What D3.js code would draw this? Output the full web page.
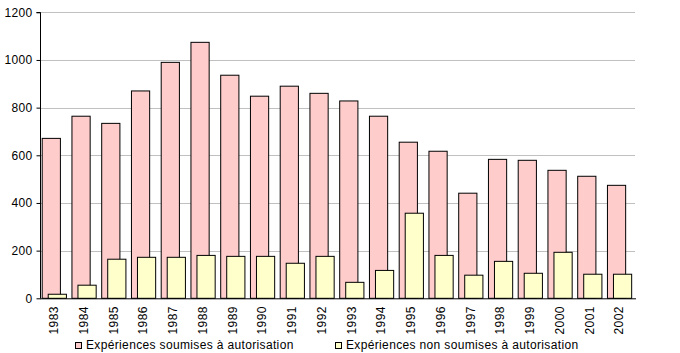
<!DOCTYPE html>
<html>
<head>
<meta charset="utf-8">
<script src="https://cdn.jsdelivr.net/npm/d3@7"></script>
<style>
  body { margin: 0; background: #fff; }
  svg text { font-family: "Liberation Sans", Arial, sans-serif; fill: #000; letter-spacing: 0.35px; }
</style>
</head>
<body>
<svg id="chart" width="680" height="353"></svg>
<script>
const years = ["1983","1984","1985","1986","1987","1988","1989","1990","1991","1992","1993","1994","1995","1996","1997","1998","1999","2000","2001","2002"];
const soumises = [671, 764, 734, 870, 990, 1074, 936, 848, 890, 860, 828, 764, 655, 617, 441, 583, 579, 537, 512, 474];
const nonSoumises = [17, 55, 164, 172, 172, 180, 176, 176, 147, 176, 67, 117, 357, 180, 97, 155, 105, 193, 101, 101];
const yTicks = [0, 200, 400, 600, 800, 1000, 1200];
const seriesNames = ["Expériences soumises à autorisation", "Expériences non soumises à autorisation"];
const colors = ["#FFCCCC", "#FFFFCC"];

const svg = d3.select("#chart");
const mLeft = 40, mRight = 635, mTop = 12.3, mBottom = 298.3;

const x = d3.scaleBand().domain(years).range([mLeft, mRight]).padding(0);
const y = d3.scaleLinear().domain([0, 1200]).range([mBottom, mTop]);
const bw = x.bandwidth();

// gridlines
svg.append("g").selectAll("line").data(yTicks.filter(d => d > 0)).join("line")
  .attr("x1", mLeft).attr("x2", mRight)
  .attr("y1", d => Math.round(y(d)) + 0.5).attr("y2", d => Math.round(y(d)) + 0.5)
  .attr("stroke", "#C0C0C0").attr("stroke-width", 1);

// bars
const barW = bw * 0.612;
svg.append("g").selectAll("rect").data(years).join("rect")
  .attr("x", d => x(d) + bw * 0.074)
  .attr("width", barW)
  .attr("y", (d, i) => y(soumises[i]))
  .attr("height", (d, i) => mBottom - y(soumises[i]))
  .attr("fill", colors[0]).attr("stroke", "#000").attr("stroke-width", 1);

svg.append("g").selectAll("rect").data(years).join("rect")
  .attr("x", d => x(d) + bw * 0.276)
  .attr("width", barW)
  .attr("y", (d, i) => y(nonSoumises[i]))
  .attr("height", (d, i) => mBottom - y(nonSoumises[i]))
  .attr("fill", colors[1]).attr("stroke", "#000").attr("stroke-width", 1);

// y axis
const yAxis = d3.axisLeft(y).tickValues(yTicks).tickSize(4).tickPadding(4).tickFormat(d3.format("d"));
const gy = svg.append("g").attr("transform", `translate(${mLeft + 0.5},0)`).call(yAxis);
gy.select(".domain").attr("d", `M-4,${Math.round(mTop)+0.5}H0V${mBottom}`).attr("stroke", "#000");
gy.selectAll(".tick line").attr("stroke", "#000");
gy.selectAll(".tick text").style("font-size", "12px").style("font-family", "Liberation Sans, Arial, sans-serif");

// x axis
const xAxis = d3.axisBottom(x).tickSize(0).tickPadding(0);
const gx = svg.append("g").attr("transform", `translate(0,${mBottom})`).call(xAxis);
gx.select(".domain").attr("d", `M${mLeft},0.5H${mRight + 1}`).attr("stroke", "#000");
gx.selectAll(".tick text")
  .style("font-size", "12px").style("font-family", "Liberation Sans, Arial, sans-serif")
  .attr("text-anchor", "end")
  .attr("transform", "translate(-1,8) rotate(-90)")
  .attr("x", 0).attr("y", 0).attr("dy", "0.35em");

// legend
const legendX = [75, 335];
const lg = svg.append("g").selectAll("g").data(seriesNames).join("g")
  .attr("transform", (d, i) => `translate(${legendX[i]},342)`);
lg.append("rect").attr("x", 0.5).attr("y", 0.5).attr("width", 6).attr("height", 6)
  .attr("fill", (d, i) => colors[i]).attr("stroke", "#000").attr("stroke-width", 1);
lg.append("text").attr("x", 11).attr("y", 6.5)
  .style("font-size", "12px").text(d => d);
</script>
</body>
</html>
